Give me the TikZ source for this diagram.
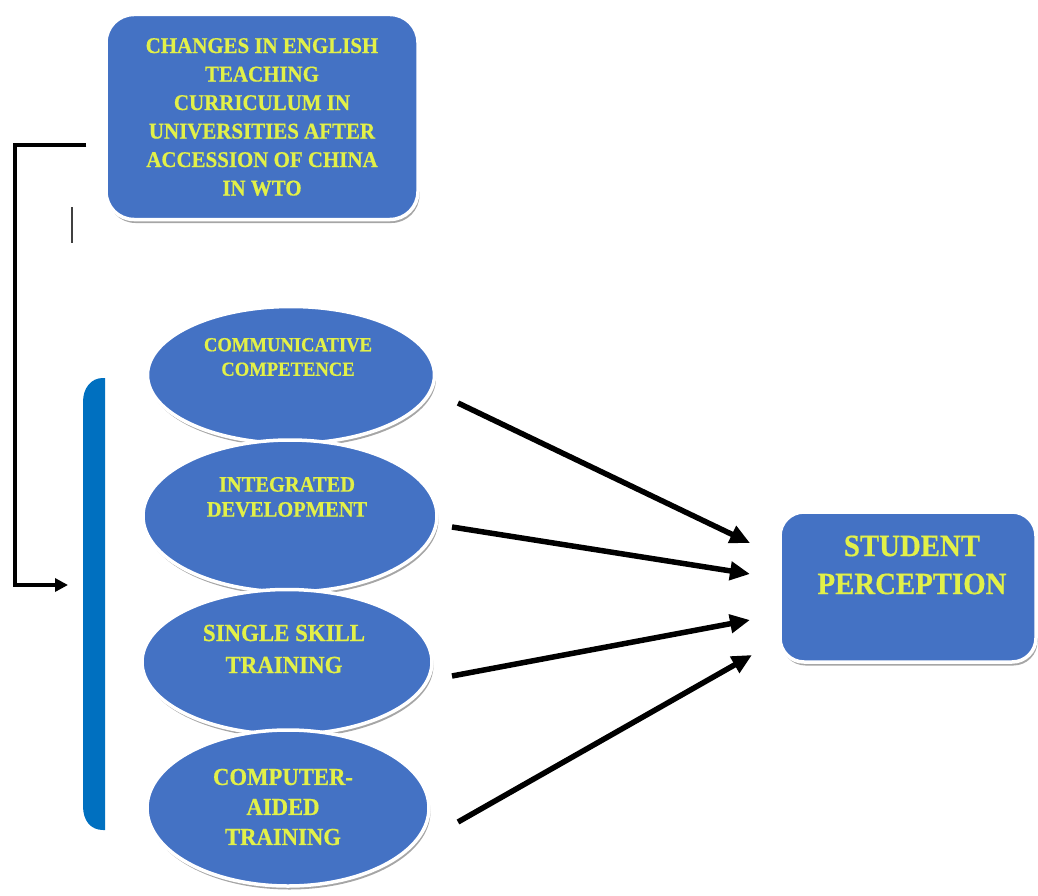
\documentclass[tikz,border=0pt]{standalone}
\usepackage{fontspec}
\setmainfont{Liberation Serif}
\newfontfamily\lblfont{Liberation Serif}[FakeStretch=0.93, BoldFeatures={FakeBold=0.6}]
\usetikzlibrary{shapes.geometric,arrows.meta,shadows,calc}
\definecolor{boxblue}{RGB}{68,114,196}
\definecolor{txtyellow}{RGB}{226,240,72}
\definecolor{barblue}{RGB}{0,112,192}
\newcommand{\fs}[2]{\lblfont\bfseries\fontsize{#1}{#2}\selectfont}
\begin{document}
\begin{tikzpicture}[x=1pt,y=-1pt,
  blob/.style={fill=boxblue, draw=white, line width=3.5pt,
    drop shadow={shadow xshift=1.5pt, shadow yshift=-3.5pt, opacity=0.35, fill=black}},
  rbox/.style={blob, rounded corners=28pt, text=txtyellow, align=center, inner sep=0pt},
  oval/.style={blob, ellipse, inner sep=0pt},
  lbl/.style={text=txtyellow, align=center, inner sep=0pt},
  conn/.style={line width=5.5pt, -{Triangle[length=20pt,width=18pt]}},
]
\useasboundingbox (0,0) rectangle (1038,896);

% top box
\node[rbox, minimum width=312pt, minimum height=205pt,
  font=\fs{22.5}{28.5}] (top) at (262,117)
  {CHANGES IN ENGLISH\\TEACHING\\CURRICULUM IN\\UNIVERSITIES AFTER\\ACCESSION OF CHINA\\IN WTO};

% blue bracket bar
\fill[barblue] (105,378) -- (105,830) -- (103,830)
  .. controls (91,830) and (83,821) .. (83,806) -- (83,402)
  .. controls (83,388) and (91,378) .. (103,378) -- cycle;
\coordinate (bar) at (83,585);

% ellipses
\node[oval, minimum width=287pt, minimum height=137pt] (e1) at (291,375) {};
\node[lbl, font=\fs{20}{24.5}] (t1) at (288,357) {COMMUNICATIVE\\COMPETENCE};
\node[oval, minimum width=294pt, minimum height=152pt] (e2) at (290,516) {};
\node[lbl, font=\fs{22}{25}] (t2) at (287,497) {INTEGRATED\\DEVELOPMENT};
\node[oval, minimum width=290pt, minimum height=145pt] (e3) at (287,662) {};
\node[lbl, font=\fs{24.6}{32}] (t3) at (284,649) {SINGLE SKILL\\TRAINING};
\node[oval, minimum width=282pt, minimum height=156pt] (e4) at (288,808) {};
\node[lbl, font=\fs{24.4}{30}] (t4) at (283,807) {COMPUTER-\\AIDED\\TRAINING};

% student perception
\node[rbox, rounded corners=24pt, minimum width=256pt, minimum height=150pt] (sp) at (908,587) {};
\node[lbl, font=\fs{31}{38}] (spt) at (912,565) {STUDENT\\PERCEPTION};

% left connector
\coordinate (lc) at ($(top.west)+(-18,28)$);
\draw[line width=4pt, line join=miter, -{Triangle[length=13pt,width=13pt]}]
  (lc) -- (15,145) -- (15,585) -- ($(bar)+(-15,0)$);
\draw[line width=1.8pt, black!75] (72,207) -- (72,243);

% arrows to student perception
\coordinate (a1s) at (458,403);
\coordinate (a2s) at (452,527);
\coordinate (a3s) at (452,676);
\coordinate (a4s) at (458,822);
\coordinate (a1e) at (750,543);
\coordinate (a2e) at (750,574);
\coordinate (a3e) at (750,620);
\coordinate (a4e) at (752,655);
\draw[conn] (a1s) -- (a1e);
\draw[conn] (a2s) -- (a2e);
\draw[conn] (a3s) -- (a3e);
\draw[conn] (a4s) -- (a4e);
\end{tikzpicture}
\end{document}
